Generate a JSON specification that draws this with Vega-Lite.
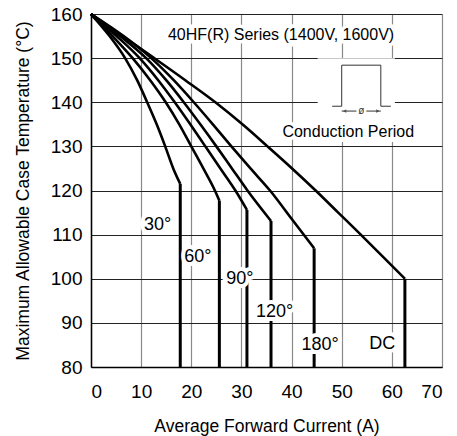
{
  "$schema": "https://vega.github.io/schema/vega-lite/v6.json",
  "width": 351,
  "height": 353,
  "autosize": "none",
  "padding": {"left": 91, "top": 14, "right": 15, "bottom": 69},
  "background": "white",
  "config": {
    "view": {"stroke": null},
    "font": "Liberation Sans",
    "axis": {"labelFont": "Liberation Sans", "titleFont": "Liberation Sans", "labelColor": "black", "titleColor": "black", "titleFontWeight": "normal", "ticks": false, "domainColor": "black", "domainWidth": 1.5, "labelFontSize": 19, "titleFontSize": 17.5}
  },
  "datasets": {
    "curves": [
      {"s": "30", "x": 0, "t": 160}, {"s": "30", "x": 3.7, "t": 155}, {"s": "30", "x": 6.8, "t": 150}, {"s": "30", "x": 9.2, "t": 145}, {"s": "30", "x": 11.2, "t": 140}, {"s": "30", "x": 13.1, "t": 135}, {"s": "30", "x": 14.8, "t": 130}, {"s": "30", "x": 16.4, "t": 125}, {"s": "30", "x": 17.8, "t": 121.5},
      {"s": "60", "x": 0, "t": 160}, {"s": "60", "x": 4.3, "t": 155}, {"s": "60", "x": 8.3, "t": 150}, {"s": "60", "x": 11.8, "t": 145}, {"s": "60", "x": 14.9, "t": 140}, {"s": "60", "x": 17.6, "t": 135}, {"s": "60", "x": 20, "t": 130}, {"s": "60", "x": 22.4, "t": 125}, {"s": "60", "x": 24.7, "t": 120}, {"s": "60", "x": 25.6, "t": 117.7},
      {"s": "90", "x": 0, "t": 160}, {"s": "90", "x": 5.1, "t": 155}, {"s": "90", "x": 9.7, "t": 150}, {"s": "90", "x": 13.4, "t": 145}, {"s": "90", "x": 16.7, "t": 140}, {"s": "90", "x": 19.8, "t": 135}, {"s": "90", "x": 22.8, "t": 130}, {"s": "90", "x": 25.8, "t": 125}, {"s": "90", "x": 28.8, "t": 120}, {"s": "90", "x": 31.1, "t": 115.6},
      {"s": "120", "x": 0, "t": 160}, {"s": "120", "x": 5.8, "t": 155}, {"s": "120", "x": 11, "t": 150}, {"s": "120", "x": 15, "t": 145}, {"s": "120", "x": 18.5, "t": 140}, {"s": "120", "x": 21.8, "t": 135}, {"s": "120", "x": 25, "t": 130}, {"s": "120", "x": 28.1, "t": 125}, {"s": "120", "x": 31.2, "t": 120}, {"s": "120", "x": 35.9, "t": 113.1},
      {"s": "180", "x": 0, "t": 160}, {"s": "180", "x": 6.5, "t": 155}, {"s": "180", "x": 12, "t": 150}, {"s": "180", "x": 16.5, "t": 145}, {"s": "180", "x": 20.5, "t": 140}, {"s": "180", "x": 24.3, "t": 135}, {"s": "180", "x": 28, "t": 130}, {"s": "180", "x": 31.8, "t": 125}, {"s": "180", "x": 35.7, "t": 120}, {"s": "180", "x": 40, "t": 113.6}, {"s": "180", "x": 44.5, "t": 106.9},
      {"s": "DC", "x": 0, "t": 160}, {"s": "DC", "x": 6.3, "t": 155}, {"s": "DC", "x": 12.6, "t": 150}, {"s": "DC", "x": 18.8, "t": 145}, {"s": "DC", "x": 24.8, "t": 140}, {"s": "DC", "x": 30.2, "t": 135}, {"s": "DC", "x": 35.2, "t": 130}, {"s": "DC", "x": 40.1, "t": 125}, {"s": "DC", "x": 44.8, "t": 120}, {"s": "DC", "x": 49.3, "t": 115}, {"s": "DC", "x": 53.8, "t": 110}, {"s": "DC", "x": 58.2, "t": 105}, {"s": "DC", "x": 62.6, "t": 100}
    ],
    "verticals": [
      {"s": "30", "x": 17.8, "t": 121.5, "t2": 80},
      {"s": "60", "x": 25.6, "t": 117.7, "t2": 80},
      {"s": "90", "x": 31.1, "t": 115.6, "t2": 80},
      {"s": "120", "x": 35.9, "t": 113.1, "t2": 80},
      {"s": "180", "x": 44.5, "t": 106.9, "t2": 80},
      {"s": "DC", "x": 62.6, "t": 100, "t2": 80}
    ],
    "labels": [
      {"text": "30°", "x": 13.3, "t": 112.1},
      {"text": "60°", "x": 21.3, "t": 105},
      {"text": "90°", "x": 29.7, "t": 100},
      {"text": "120°", "x": 36.6, "t": 92.5},
      {"text": "180°", "x": 45.7, "t": 84.9},
      {"text": "DC", "x": 58.1, "t": 85.2}
    ],
    "notes": [
      {"text": "40HF(R) Series (1400V, 1600V)", "x": 37.9, "t": 155.2},
      {"text": "Conduction Period", "x": 51.3, "t": 133.3}
    ],
    "box": [{"x": 45.2, "x2": 60.6, "t": 150, "t2": 131}],
    "wave": [
      {"i": 1, "x": 48.1, "t": 139.1}, {"i": 2, "x": 50, "t": 139.1}, {"i": 3, "x": 50, "t": 148.4},
      {"i": 4, "x": 57.8, "t": 148.4}, {"i": 5, "x": 57.8, "t": 139.1}, {"i": 6, "x": 59.8, "t": 139.1}
    ],
    "span": [{"x": 50, "x2": 57.8, "t": 138}],
    "arrows": [{"x": 50.6, "t": 138, "dir": "left"}, {"x": 57.2, "t": 138, "dir": "right"}],
    "phi": [{"text": "ø", "x": 53.9, "t": 138}]
  },
  "layer": [
    {
      "data": {"name": "box"},
      "mark": {"type": "rect", "color": "white"},
      "encoding": {
        "x": {"field": "x", "type": "quantitative", "scale": {"domain": [0, 70], "nice": false, "zero": false},
          "axis": {"values": [0, 10, 20, 30, 40, 50, 60, 70], "grid": true, "gridColor": "#8a8a8a", "gridWidth": 1.2, "labelPadding": 15, "title": "Average Forward Current (A)", "titlePadding": 16}},
        "x2": {"field": "x2"},
        "y": {"field": "t", "type": "quantitative", "scale": {"domain": [80, 160], "nice": false, "zero": false},
          "axis": {"values": [80, 90, 100, 110, 120, 130, 140, 150, 160], "grid": true, "gridColor": "#222", "gridWidth": 1, "labelPadding": 9, "title": "Maximum Allowable Case Temperature (°C)", "titlePadding": 18}},
        "y2": {"field": "t2"}
      }
    },
    {
      "data": {"name": "curves"},
      "mark": {"type": "line", "color": "black", "strokeWidth": 2.6, "interpolate": "monotone"},
      "encoding": {
        "x": {"field": "x", "type": "quantitative"},
        "y": {"field": "t", "type": "quantitative"},
        "detail": {"field": "s"}
      }
    },
    {
      "data": {"name": "verticals"},
      "mark": {"type": "rule", "color": "black", "strokeWidth": 3},
      "encoding": {
        "x": {"field": "x", "type": "quantitative"},
        "y": {"field": "t", "type": "quantitative"},
        "y2": {"field": "t2"}
      }
    },
    {
      "data": {"name": "wave"},
      "mark": {"type": "line", "color": "#333", "strokeWidth": 1},
      "encoding": {
        "x": {"field": "x", "type": "quantitative"},
        "y": {"field": "t", "type": "quantitative"},
        "order": {"field": "i"}
      }
    },
    {
      "data": {"name": "span"},
      "mark": {"type": "rule", "color": "#333", "strokeWidth": 1},
      "encoding": {
        "x": {"field": "x", "type": "quantitative"},
        "x2": {"field": "x2"},
        "y": {"field": "t", "type": "quantitative"}
      }
    },
    {
      "data": {"name": "arrows"},
      "mark": {"type": "point", "filled": true, "color": "#333", "size": 14},
      "encoding": {
        "x": {"field": "x", "type": "quantitative"},
        "y": {"field": "t", "type": "quantitative"},
        "shape": {"field": "dir", "type": "nominal", "scale": {"domain": ["left", "right"], "range": ["triangle-left", "triangle-right"]}, "legend": null}
      }
    },
    {
      "data": {"name": "phi"},
      "mark": {"type": "text", "fontSize": 10, "color": "#333", "stroke": "white", "strokeWidth": 5, "baseline": "middle"},
      "encoding": {"x": {"field": "x", "type": "quantitative"}, "y": {"field": "t", "type": "quantitative"}, "text": {"field": "text"}}
    },
    {
      "data": {"name": "phi"},
      "mark": {"type": "text", "fontSize": 10, "color": "#333", "baseline": "middle"},
      "encoding": {"x": {"field": "x", "type": "quantitative"}, "y": {"field": "t", "type": "quantitative"}, "text": {"field": "text"}}
    },
    {
      "data": {"name": "labels"},
      "mark": {"type": "text", "fontSize": 18, "color": "white", "stroke": "white", "strokeWidth": 8, "baseline": "middle"},
      "encoding": {"x": {"field": "x", "type": "quantitative"}, "y": {"field": "t", "type": "quantitative"}, "text": {"field": "text"}}
    },
    {
      "data": {"name": "labels"},
      "mark": {"type": "text", "fontSize": 18, "color": "black", "baseline": "middle"},
      "encoding": {"x": {"field": "x", "type": "quantitative"}, "y": {"field": "t", "type": "quantitative"}, "text": {"field": "text"}}
    },
    {
      "data": {"name": "notes"},
      "mark": {"type": "text", "fontSize": 16, "color": "white", "stroke": "white", "strokeWidth": 7, "baseline": "middle"},
      "encoding": {"x": {"field": "x", "type": "quantitative"}, "y": {"field": "t", "type": "quantitative"}, "text": {"field": "text"}}
    },
    {
      "data": {"name": "notes"},
      "mark": {"type": "text", "fontSize": 16, "color": "black", "baseline": "middle"},
      "encoding": {"x": {"field": "x", "type": "quantitative"}, "y": {"field": "t", "type": "quantitative"}, "text": {"field": "text"}}
    }
  ]
}
